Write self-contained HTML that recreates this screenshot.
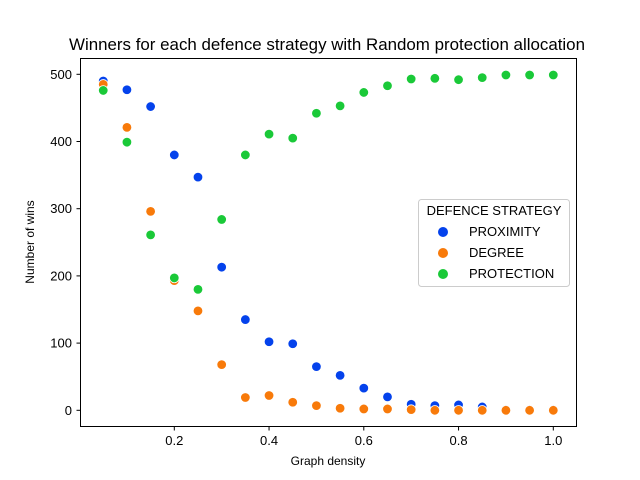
<!DOCTYPE html>
<html><head><meta charset="utf-8"><style>
body{margin:0;background:#fff;}
svg{display:block;font-family:"Liberation Sans",Arial,sans-serif;}
</style></head><body>
<svg id="chart" width="640" height="480">
<rect width="640" height="480" fill="#fff"/>
<text x="327" y="50" font-size="16.5" text-anchor="middle" textLength="516" lengthAdjust="spacingAndGlyphs">Winners for each defence strategy with Random protection allocation</text>
<g id="axes"></g>
<g id="marks"></g>
<rect x="80.5" y="58.5" width="496" height="368" fill="none" stroke="#000" stroke-width="1"/>
<text x="328" y="465" font-size="12" text-anchor="middle">Graph density</text>
<text x="34" y="242" font-size="12" text-anchor="middle" transform="rotate(-90 34 242)">Number of wins</text>
<g>
<rect x="418.5" y="199.5" width="151" height="87" rx="3" fill="#fff" fill-opacity="0.8" stroke="#ccc"/>
<text x="494" y="215" font-size="13" text-anchor="middle">DEFENCE STRATEGY</text>
<g><circle cx="443" cy="232" r="5" fill="#0442ec"/><text x="469" y="236" font-size="13">PROXIMITY</text></g>
<g><circle cx="443" cy="253" r="5" fill="#f87a0a"/><text x="469" y="257" font-size="13">DEGREE</text></g>
<g><circle cx="443" cy="274" r="5" fill="#1ac938"/><text x="469" y="278" font-size="13">PROTECTION</text></g>
</g>
</svg>
<script>
const densities=[0.05,0.1,0.15,0.2,0.25,0.3,0.35,0.4,0.45,0.5,0.55,0.6,0.65,0.7,0.75,0.8,0.85,0.9,0.95,1.0];
const proximity=[490,477,452,380,347,213,135,102,99,65,52,33,20,9,7,8,5,1,1,1];
const degree=[485,421,296,193,148,68,19,22,12,7,3,2,2,1,0,0,0,0,0,0];
const protection=[476,399,261,197,180,284,380,411,405,442,453,473,483,493,494,492,495,499,499,499];
const xTicks=[0.2,0.4,0.6,0.8,1.0];
const xTickLabels=["0.2","0.4","0.6","0.8","1.0"];
const yTicks=[0,100,200,300,400,500];
const yTickLabels=["0","100","200","300","400","500"];
const NS="http://www.w3.org/2000/svg";
function xs(v){return 174.3+(v-0.2)*473.75;}
function yScale(v){return 410.3-v*(336/500);}
const axes=document.getElementById('axes');
xTicks.forEach((t,i)=>{
  const x=xs(t);
  const l=document.createElementNS(NS,'line');
  l.setAttribute('x1',x);l.setAttribute('x2',x);l.setAttribute('y1',427);l.setAttribute('y2',430.5);l.setAttribute('stroke','#000');
  
  
  axes.appendChild(l);
  const tx=document.createElementNS(NS,'text');
  tx.setAttribute('x',x);tx.setAttribute('y',445);tx.setAttribute('font-size','13');tx.setAttribute('text-anchor','middle');
  tx.textContent=xTickLabels[i];
  
  
  axes.appendChild(tx);
});
yTicks.forEach((t,i)=>{
  const y=yScale(t);
  const l=document.createElementNS(NS,'line');
  l.setAttribute('x1',76.5);l.setAttribute('x2',80.5);l.setAttribute('y1',y);l.setAttribute('y2',y);l.setAttribute('stroke','#000');
  
  
  axes.appendChild(l);
  const tx=document.createElementNS(NS,'text');
  tx.setAttribute('x',72);tx.setAttribute('y',y+4.5);tx.setAttribute('font-size','13');tx.setAttribute('text-anchor','end');
  tx.textContent=yTickLabels[i];
  
  
  axes.appendChild(tx);
});
const marks=document.getElementById('marks');
[[proximity,'#0442ec','proximity'],[degree,'#f87a0a','degree'],[protection,'#1ac938','protection']].forEach(([vals,col,name])=>{
  vals.forEach((v,i)=>{
    const c=document.createElementNS(NS,'circle');
    c.setAttribute('cx',xs(densities[i]));c.setAttribute('cy',yScale(v));c.setAttribute('r',4.8);
    c.setAttribute('fill',col);c.setAttribute('stroke','#fff');c.setAttribute('stroke-width','0.8');
    
    
    marks.appendChild(c);
  });
});
</script>
</body></html>
